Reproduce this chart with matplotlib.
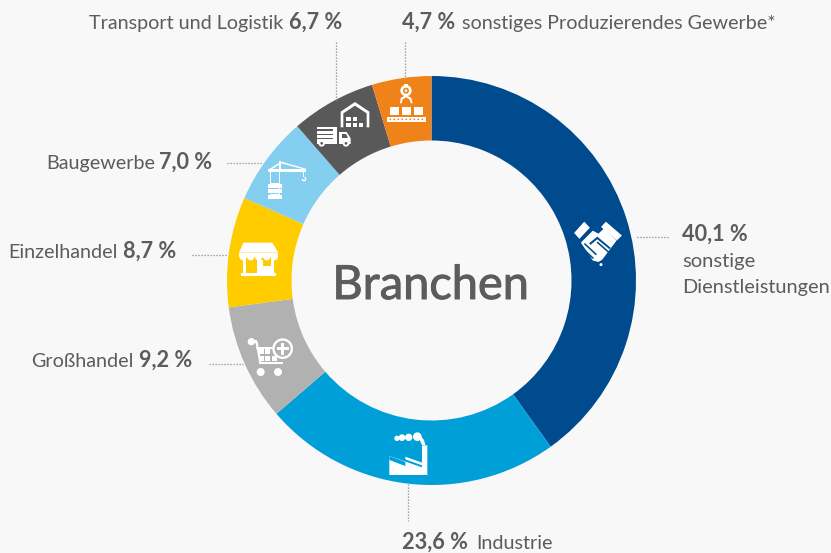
import matplotlib.pyplot as plt
import matplotlib.patheffects as pe
from matplotlib.patches import Polygon, Rectangle, Circle
from matplotlib.transforms import Affine2D

plt.rcParams['font.family'] = ['Lato', 'DejaVu Sans']

branchen = ['sonstige Dienstleistungen', 'Industrie', 'Großhandel', 'Einzelhandel',
            'Baugewerbe', 'Transport und Logistik', 'sonstiges Produzierendes Gewerbe*']
anteile = [40.1, 23.6, 9.2, 8.7, 7.0, 6.7, 4.7]
farben = ['#004b8d', '#009fd7', '#b1b1b1', '#ffcc00', '#84cef0', '#595959', '#f0821a']

BG = '#f8f8f8'
TXT = '#5c5c5c'
W, H = 831, 553

fig = plt.figure(figsize=(W / 100, H / 100), dpi=100, facecolor=BG)

# Ring
ax = fig.add_axes([0, 0, 1, 1])
ax.pie(anteile, colors=farben, startangle=90, counterclock=False, radius=204.5,
       center=(431.5, H - 280.5), wedgeprops={'width': 64.5, 'linewidth': 0})
ax.set_xlim(0, W)
ax.set_ylim(0, H)
ax.axis('off')

# overlay in pixel coordinates, y down
ov = fig.add_axes([0, 0, 1, 1])
ov.set_xlim(0, W)
ov.set_ylim(H, 0)
ov.axis('off')
ov.patch.set_alpha(0)

# leader lines
for xs, ys in [([668, 636], [237, 237]), ([408, 408], [484, 521]),
               ([209, 243], [364, 364]), ([192, 228], [255, 255]),
               ([227, 262], [163, 163]), ([336, 336], [42, 102]),
               ([405, 405], [42, 78])]:
    ov.plot(xs, ys, color='#8a8a8a', lw=0.9, ls=(0, (1, 1.4)))


def txt(x, y, s, bold=False, size=14.2):
    ov.text(x, y, s, fontsize=15.6 if bold else size, color=TXT, va='baseline', ha='left',
            fontweight='bold' if bold else 'normal')


# labels
txt(89, 29, 'Transport und Logistik')
txt(289, 29, '6,7 %', True)
txt(402, 29, '4,7 %', True)
txt(462, 29, 'sonstiges Produzierendes Gewerbe*')
txt(46, 169, 'Baugewerbe')
txt(159, 169, '7,0 %', True)
txt(8, 258, 'Einzelhandel')
txt(123, 258, '8,7 %', True)
txt(31, 367, 'Großhandel')
txt(139, 367, '9,2 %', True)
txt(682, 241, '40,1 %', True)
txt(682, 267, 'sonstige', size=14.5)
txt(682, 293, 'Dienstleistungen', size=14.4)
txt(402, 549, '23,6 %', True)
txt(476, 549, 'Industrie')

ov.text(431, 299, 'Branchen', fontsize=33.8, color=TXT, ha='center', va='baseline',
        path_effects=[pe.withStroke(linewidth=0.7, foreground=TXT)])


# icon helpers, coordinates taken from 3x crops
class Icon:
    def __init__(self, ox, oy, fg='white', s=1 / 3):
        self.tr = Affine2D().scale(s).translate(ox, oy) + ov.transData
        self.fg = fg

    def add(self, p):
        p.set_transform(self.tr)
        p.set_linewidth(0)
        ov.add_patch(p)

    def rect(self, x0, y0, x1, y1, c=None):
        self.add(Rectangle((x0, y0), x1 - x0, y1 - y0, fc=c or self.fg))

    def circ(self, x, y, r, c=None):
        self.add(Circle((x, y), r, fc=c or self.fg))

    def poly(self, pts, c=None):
        self.add(Polygon(pts, closed=True, fc=c or self.fg))


# robot + conveyor
i = Icon(230, 70)
col = farben[6]
i.circ(528, 62, 17)
i.circ(528, 62, 9, col)
i.circ(528, 62, 4)
i.rect(522, 42, 534, 50)
i.poly([(510, 100), (512, 84), (528, 75), (544, 84), (548, 100), (543, 100), (538, 88), (528, 82), (518, 88), (515, 100)])
for x in (481, 517, 553):
    i.rect(x, 110, x + 25, 135)
i.rect(472, 140, 587, 157)
for x in range(481, 584, 12):
    i.circ(x, 148, 2.6, col)

# warehouse + truck
col = farben[5]
i.poly([(332, 172), (332, 125), (375, 96), (418, 125), (418, 172), (410, 172), (410, 130), (375, 107), (340, 130), (340, 172)])
for x, y in [(349, 141), (368, 141), (349, 159), (368, 159), (386, 159)]:
    i.rect(x, y, x + 13, y + 12)
for y0, y1 in [(170, 178), (184, 191), (196, 203)]:
    i.rect(262, y0, 322, y1)
i.rect(262, 208, 322, 222)
i.rect(310, 170, 322, 222)
i.poly([(327, 186), (350, 186), (362, 205), (362, 222), (327, 222)])
i.poly([(336, 192), (348, 192), (354, 204), (336, 204)], col)
i.circ(275, 220, 10)
i.circ(275, 220, 4, col)
i.circ(348, 220, 10)
i.circ(348, 220, 4, col)

# crane
i.rect(115, 296, 228, 305)
i.poly([(146, 274), (154, 274), (154, 300), (146, 300)])
i.poly([(150, 274), (228, 296), (228, 300), (150, 279)])
i.poly([(146, 279), (118, 297), (122, 300), (148, 284)])
i.rect(120, 300, 123, 345)
i.rect(146, 300, 150, 345)
i.rect(115, 343, 155, 353)
i.rect(115, 358, 155, 368)
i.rect(115, 374, 155, 386)
i.rect(120, 340, 150, 386)
for y in (353, 368):
    i.rect(120, y, 146, y + 4, farben[4])
i.rect(220, 300, 223, 322)
i.circ(222, 327, 7)
i.circ(222, 326, 3.5, farben[4])
i.rect(213, 320, 221, 328, farben[4])

# store
m = Icon(235, 236)
col = farben[3]
m.poly([(25, 20), (112, 20), (130, 50), (12, 50)])
m.rect(12, 50, 130, 62)
for x in (24, 47, 71, 95, 118):
    m.circ(x, 62, 11)
m.rect(24, 62, 33, 112)
m.rect(108, 62, 117, 112)
m.rect(66, 72, 84, 112)
m.rect(84, 90, 108, 112)
m.rect(18, 112, 122, 120)

# shopping cart
j = Icon(220, 230)
j.circ(94, 335, 11)
j.rect(92, 331, 112, 340)
j.poly([(106, 335), (113, 335), (125, 400), (118, 400)])
j.poly([(108, 350), (165, 350), (165, 356), (108, 356)])
for x0, y0 in [(116, 358), (136, 358), (116, 378), (136, 378), (156, 378)]:
    j.rect(x0, y0, x0 + 15, y0 + 15)
j.rect(118, 396, 190, 403)
j.circ(122, 426, 12)
j.circ(174, 426, 12)
j.circ(188, 356, 31)
j.circ(188, 356, 24, farben[2])
j.rect(170, 352, 206, 360)
j.rect(184, 338, 192, 374)

# factory
j.circ(531, 625, 8)
j.circ(546, 623, 10)
j.circ(566, 622, 11)
j.circ(592, 620, 13)
j.poly([(600, 615), (612, 630), (616, 645), (606, 645), (600, 632)])
j.poly([(508, 678), (606, 712), (606, 646), (622, 646), (622, 735), (508, 735)])
j.poly([(508, 690), (508, 678), (556, 696), (556, 708)], farben[1])
j.poly([(556, 680), (606, 698), (606, 706), (556, 688)])

# handshake, a bit bigger than the crop scale
k = Icon(566.7, 215, s=0.373)
col = farben[0]
k.poly([(20, 48), (47, 18), (62, 34), (34, 64)])
k.poly([(105, 18), (148, 55), (135, 68), (92, 32)])
k.poly([(38, 74), (70, 42), (85, 50), (100, 36), (134, 68), (95, 120), (85, 126), (70, 122)])
# gaps between the fingers
for a, b in [((36, 86), (70, 118)), ((46, 78), (78, 108)), ((80, 74), (112, 102))]:
    k.poly([a, (a[0] + 3, a[1] - 3), (b[0] + 3, b[1] - 3), b], col)
k.poly([(60, 76), (82, 58), (118, 88), (115, 92), (82, 65), (64, 80)], col)
k.circ(92, 133, 4)

fig.savefig('out.png', dpi=100, facecolor=BG)
